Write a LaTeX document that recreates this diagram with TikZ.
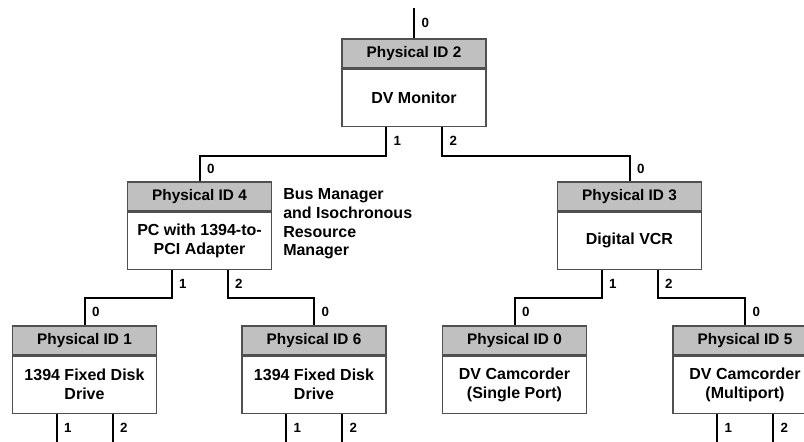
\documentclass[tikz,border=0pt]{standalone}
\usepackage{fontspec}
\setmainfont{Liberation Sans}
\usetikzlibrary{positioning}
\definecolor{headgray}{HTML}{C0C0C0}
\definecolor{framegray}{HTML}{505050}

\begin{document}
\begin{tikzpicture}[x=0.75pt,y=-0.75pt,
  idhead/.style={draw=framegray,fill=headgray,line width=0.8pt,minimum width=108pt,
    minimum height=21.75pt,inner sep=0pt,font=\bfseries\fontsize{11.5}{14}\selectfont},
  idbody/.style={draw=framegray,fill=white,line width=0.8pt,minimum width=108pt,
    minimum height=42.75pt,inner sep=0pt,align=center,font=\bfseries\fontsize{12}{14}\selectfont},
  link/.style={line width=1.5pt},
  port/.style={font=\bfseries\fontsize{10}{11}\selectfont,inner sep=1pt,right=4pt}]

  \useasboundingbox (0,0) rectangle (804,442);
  \clip (0,0) rectangle (804,442);

  % boxes
  \node[idhead] (h2) at (414,53.5) {Physical ID 2};
  \node[idbody,below=0pt of h2] (b2) {DV Monitor};

  \node[idhead] (h4) at (199.5,196.5) {Physical ID 4};
  \node[idbody,below=0pt of h4] (b4) {PC with 1394-to-\\PCI Adapter};

  \node[idhead] (h3) at (629.5,196.5) {Physical ID 3};
  \node[idbody,below=0pt of h3] (b3) {Digital VCR};

  \node[idhead] (h1) at (84.5,340.5) {Physical ID 1};
  \node[idbody,below=0pt of h1] (b1) {1394 Fixed Disk\\Drive};

  \node[idhead] (h6) at (314,340.5) {Physical ID 6};
  \node[idbody,below=0pt of h6] (b6) {1394 Fixed Disk\\Drive};

  \node[idhead] (h0) at (514.5,340.5) {Physical ID 0};
  \node[idbody,below=0pt of h0] (b0) {DV Camcorder\\(Single Port)};

  \node[idhead] (h5) at (745,340.5) {Physical ID 5};
  \node[idbody,below=0pt of h5] (b5) {DV Camcorder\\(Multiport)};

  \node[anchor=west,align=left,inner sep=0pt,font=\bfseries\fontsize{12}{14}\selectfont]
    (bm) at (283,224) {Bus Manager\\and Isochronous\\Resource\\Manager};

  % links
  \coordinate (top) at (414,8);
  \draw[link] (top) -- (h2.north) node[port,midway] {0};

  \draw[link] ([xshift=-21pt]b2.south) -- ++(0,29) node[port,midway] {1}
    -| node[port,pos=0.75] {0} (h4.north);
  \draw[link] ([xshift=21pt]b2.south) -- ++(0,29) node[port,midway] {2}
    -| node[port,pos=0.75] {0} (h3.north);

  \draw[link] ([xshift=-21pt]b4.south) -- ++(0,28) node[port,midway] {1}
    -| node[port,pos=0.75] {0} (h1.north);
  \draw[link] ([xshift=21pt]b4.south) -- ++(0,28) node[port,midway] {2}
    -| node[port,pos=0.75] {0} (h6.north);

  \draw[link] ([xshift=-21pt]b3.south) -- ++(0,28) node[port,midway] {1}
    -| node[port,pos=0.75] {0} (h0.north);
  \draw[link] ([xshift=21pt]b3.south) -- ++(0,28) node[port,midway] {2}
    -| node[port,pos=0.75] {0} (h5.north);

  \foreach \n in {1,6,5} {
    \draw[link] ([xshift=-21pt]b\n.south) -- ++(0,32) node[port,pos=0.45] {1};
    \draw[link] ([xshift=21pt]b\n.south) -- ++(0,32) node[port,pos=0.45] {2};
  }
\end{tikzpicture}
\end{document}
